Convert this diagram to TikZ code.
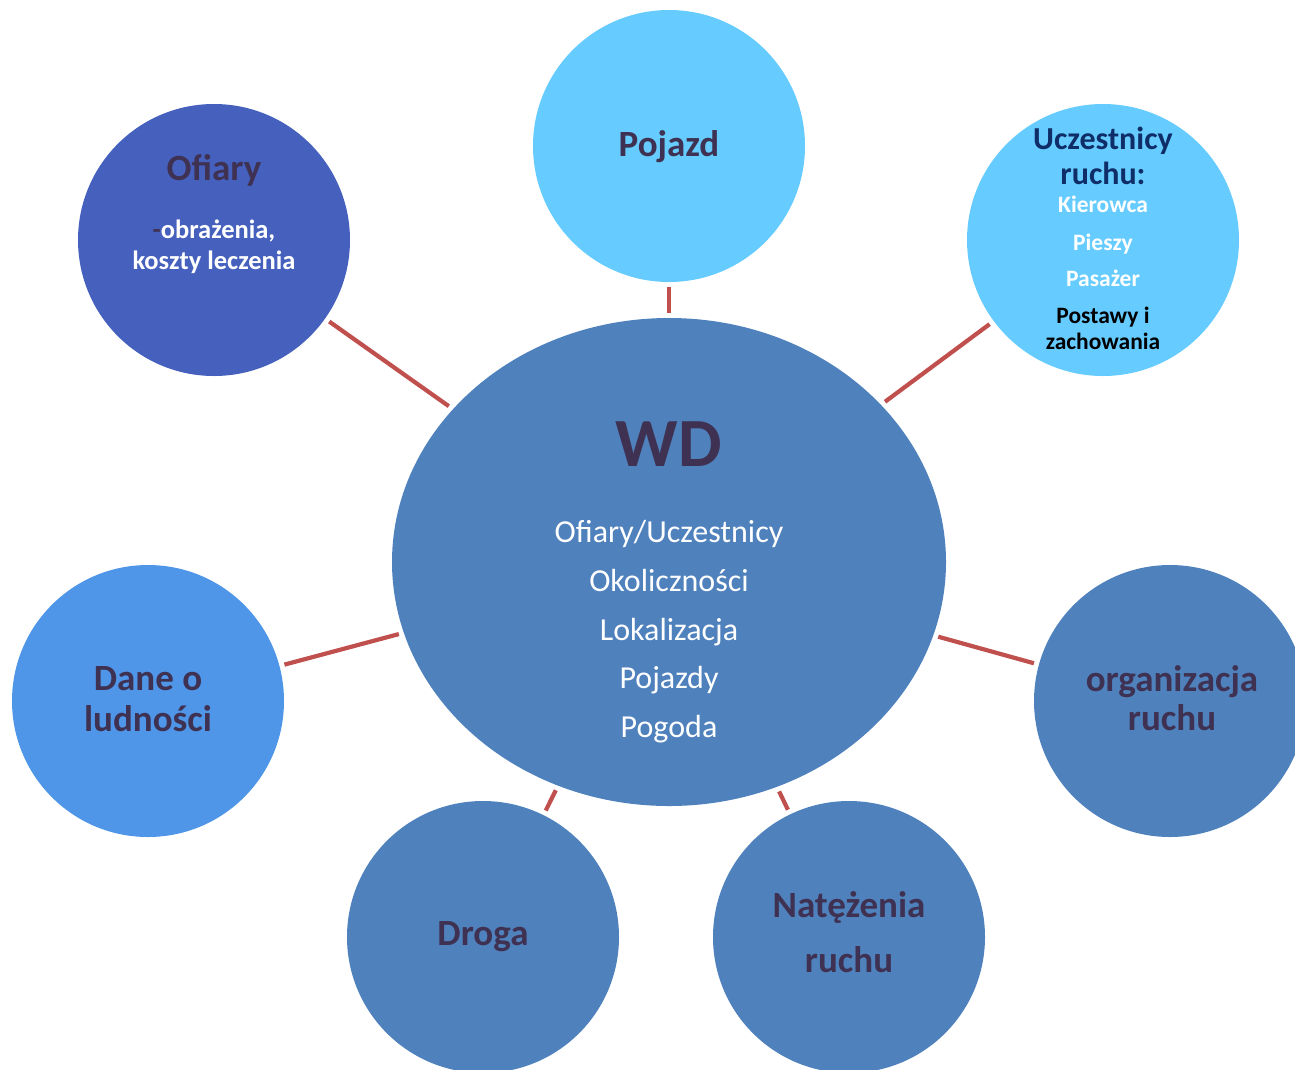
\documentclass[tikz,border=0pt]{standalone}
\usepackage{fontspec}
\setmainfont{Carlito}
\usetikzlibrary{shapes.geometric}
\definecolor{hubblue}{HTML}{4F81BD}
\definecolor{skyblue}{HTML}{66CCFF}
\definecolor{royalblue}{HTML}{4660BE}
\definecolor{azureblue}{HTML}{4F96E9}
\definecolor{plum}{HTML}{3F3151}
\definecolor{navyblue}{HTML}{0F2D66}
\definecolor{linkred}{HTML}{C0504D}

\begin{document}
\begin{tikzpicture}[x=1pt,y=-1pt,
  bubble/.style={circle, minimum size=272pt, inner sep=0pt, draw=none},
  link/.style={draw=linkred, line width=4.2pt, shorten <=5pt, shorten >=5pt},
  title/.style={anchor=base, inner sep=0pt, text=plum,
    font=\bfseries\fontsize{37}{41}\selectfont},
  smalltxt/.style={anchor=base, inner sep=0pt, text=white,
    font=\bfseries\fontsize{26.5}{30}\selectfont},
  tinytxt/.style={anchor=base, inner sep=0pt, text=white,
    font=\bfseries\fontsize{23.5}{27}\selectfont},
  listtxt/.style={anchor=base, inner sep=0pt, text=white,
    font=\fontsize{32}{37}\selectfont}]

\useasboundingbox (0,0) rectangle (1295,1069);
\clip (0,0) rectangle (1295,1069);

% central ellipse and surrounding circles
\node[ellipse, fill=hubblue, minimum width=554pt, minimum height=488pt,
      inner sep=0pt] (wd) at (669,562) {};
\node[bubble, fill=skyblue]   (pojazd)  at (669,146)  {};
\node[bubble, fill=royalblue] (ofiary)  at (214,240)  {};
\node[bubble, fill=skyblue]   (uczest)  at (1103,240) {};
\node[bubble, fill=azureblue] (dane)    at (148,701)  {};
\node[bubble, fill=hubblue]   (organiz) at (1170,701) {};
\node[bubble, fill=hubblue]   (droga)   at (483,937)  {};
\node[bubble, fill=hubblue]   (natez)   at (849,937)  {};

% connectors
\draw[link] (wd) -- (pojazd);
\draw[link] (wd) -- (ofiary);
\draw[link] (wd) -- (uczest);
\draw[link] (wd) -- (dane);
\draw[link] (wd) -- (organiz);
\draw[link] (wd) -- (droga);
\draw[link] (wd) -- (natez);

% centre text
\node[anchor=base, inner sep=0pt, text=plum,
      font=\bfseries\fontsize{69}{73}\selectfont] (wdT) at (669,466) {WD};
\node[listtxt] (wdL1) at (669,542.7) {Ofiary/Uczestnicy};
\node[listtxt] (wdL2) at (669,591.5) {Okoliczności};
\node[listtxt] (wdL3) at (669,640)   {Lokalizacja};
\node[listtxt] (wdL4) at (669,688.7) {Pojazdy};
\node[listtxt] (wdL5) at (669,737)   {Pogoda};

% Pojazd
\node[title] (pojazdT) at (669,156) {Pojazd};

% Ofiary
\node[title] (ofiaryT) at (214,180) {Ofiary};
\node[smalltxt] (ofiaryL1) at (214,238.3) {\textcolor{plum}{-}obrażenia,};
\node[smalltxt] (ofiaryL2) at (214,269.3) {koszty leczenia};

% Uczestnicy ruchu
\node[anchor=base, inner sep=0pt, text=navyblue,
      font=\bfseries\fontsize{32}{36}\selectfont] (uczT1) at (1103,149.3) {Uczestnicy};
\node[anchor=base, inner sep=0pt, text=navyblue,
      font=\bfseries\fontsize{32}{36}\selectfont] (uczT2) at (1103,184) {ruchu:};
\node[tinytxt] (uczL1) at (1103,212.3) {Kierowca};
\node[tinytxt] (uczL2) at (1103,250)   {Pieszy};
\node[tinytxt] (uczL3) at (1103,286.7) {Pasażer};
\node[tinytxt, text=black] (uczL4) at (1103,323.3) {Postawy i};
\node[tinytxt, text=black] (uczL5) at (1103,349.3) {zachowania};

% Dane o ludności
\node[title] (daneT1) at (148,690.7) {Dane o};
\node[title] (daneT2) at (148,731)   {ludności};

% organizacja ruchu
\node[title] (orgT1) at (1172,691.7) {organizacja};
\node[title] (orgT2) at (1172,730)   {ruchu};

% Droga
\node[title] (drogaT) at (483,945.7) {Droga};

% Natezenia ruchu
\node[title] (natT1) at (849,917.7) {Natężenia};
\node[title] (natT2) at (849,972.7) {ruchu};

\end{tikzpicture}
\end{document}
